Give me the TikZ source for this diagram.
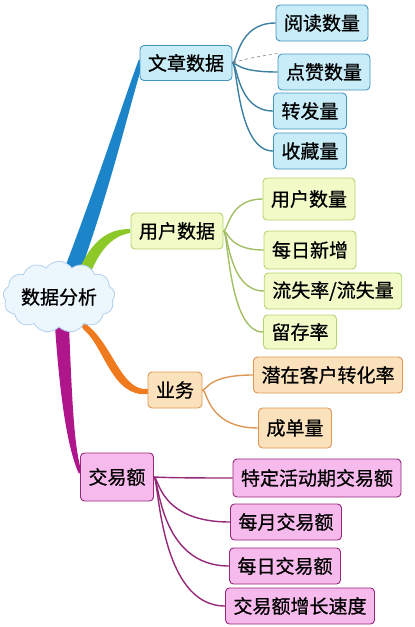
\documentclass[tikz,border=0pt]{standalone}
\usepackage{fontspec}
\newfontfamily\cjk[FakeBold=0.7]{Noto Sans CJK SC}
\usetikzlibrary{arrows.meta,calc,shapes.symbols}
\definecolor{trunkblue}{RGB}{28,132,200}
\definecolor{trunkgreen}{RGB}{140,200,40}
\definecolor{trunkorange}{RGB}{240,122,30}
\definecolor{trunkpink}{RGB}{176,22,140}
\definecolor{bluefill}{RGB}{200,236,248}
\definecolor{blueedge}{RGB}{70,150,190}
\definecolor{greenfill}{RGB}{242,250,200}
\definecolor{greenedge}{RGB}{180,212,110}
\definecolor{orangefill}{RGB}{252,226,188}
\definecolor{orangeedge}{RGB}{222,152,86}
\definecolor{pinkfill}{RGB}{246,186,236}
\definecolor{pinkedge}{RGB}{150,40,120}
\definecolor{cloudfill}{RGB}{236,246,253}
\definecolor{cloudedge}{RGB}{176,208,236}
\tikzset{
  topic/.style={draw,rounded corners=4pt,line width=0.9pt,inner xsep=8pt,inner ysep=0pt,
    minimum height=36pt,font=\cjk\fontsize{19}{21}\selectfont},
  bluebox/.style={topic,fill=bluefill,draw=blueedge},
  greenbox/.style={topic,fill=greenfill,draw=greenedge},
  orangebox/.style={topic,fill=orangefill,draw=orangeedge},
  pinkbox/.style={topic,fill=pinkfill,draw=pinkedge},
  bluelink/.style={draw=blueedge!85!black,line width=1.4pt},
  greenlink/.style={draw=greenedge!90!black,line width=1.4pt},
  orangelink/.style={draw=orangeedge,line width=1.4pt},
  pinklink/.style={draw=pinkedge,line width=1.4pt},
}
\newcommand{\mmlink}[3]{%
  \draw[#3] (#1.east) .. controls ($(#1.east)+(5,0)$) and ($(#1.east |- #2.west)+(5,0)$) .. (#2.west);%
}

\begin{document}
\begin{tikzpicture}[x=1pt,y=-1pt]
  \useasboundingbox (0,0) rectangle (415,627);
  % main branches
  \fill[trunkblue] (64,270) .. controls (100,175) and (122,105) .. (139,59)
    -- (142,66) .. controls (128,112) and (112,182) .. (81,270) -- cycle;
  \fill[trunkgreen] (78,272) .. controls (92,240) and (108,229) .. (130,229)
    -- (130,233) .. controls (112,236) and (100,250) .. (90,274) -- cycle;
  \fill[trunkorange] (76,318) .. controls (112,334) and (118,392) .. (148,389)
    -- (148,394) .. controls (112,398) and (104,346) .. (84,330) -- cycle;
  \fill[trunkpink] (55,326) .. controls (60,400) and (68,450) .. (79,474)
    -- (81,470) .. controls (74,445) and (72,400) .. (69,326) -- cycle;
  % central topic
  \node[cloud,cloud puffs=13,cloud puff arc=110,aspect=1.8,fill=cloudfill,draw=cloudedge,
    line width=0.8pt,minimum width=110pt,minimum height=62pt,inner sep=0pt,
    font=\cjk\fontsize{19}{21}\selectfont] (root) at (59,297) {数据分析};
  % main topics
  \node[bluebox,minimum height=35pt] (article) at (186,63) {文章数据};
  \node[greenbox] (users) at (177,231) {用户数据};
  \node[orangebox] (biz) at (175,390) {业务};
  \node[pinkbox,minimum height=48pt] (trade) at (117,477) {交易额};
  % subtopics
  \node[bluebox] (reads) at (322,23) {阅读数量};
  \node[bluebox] (likes) at (324,72) {点赞数量};
  \node[bluebox] (shares) at (310,111) {转发量};
  \node[bluebox] (favs) at (310,151) {收藏量};
  \node[greenbox,minimum height=42pt] (usercount) at (309,199) {用户数量};
  \node[greenbox,minimum height=38pt] (dailynew) at (310,250) {每日新增};
  \node[greenbox] (churn) at (333,291) {流失率/流失量};
  \node[greenbox,minimum height=34pt] (retention) at (300,332) {留存率};
  \node[orangebox] (convert) at (328,375) {潜在客户转化率};
  \node[orangebox,minimum height=40pt] (orders) at (295,428) {成单量};
  \node[pinkbox,minimum height=38pt] (promo) at (317,478) {特定活动期交易额};
  \node[pinkbox] (monthly) at (286,522) {每月交易额};
  \node[pinkbox] (daily) at (285,566) {每日交易额};
  \node[pinkbox] (growth) at (300,606) {交易额增长速度};
  % connectors
  \mmlink{article}{reads}{bluelink}
  \mmlink{article}{likes}{bluelink}
  \mmlink{article}{shares}{bluelink}
  \mmlink{article}{favs}{bluelink}
  \mmlink{users}{usercount}{greenlink}
  \mmlink{users}{dailynew}{greenlink}
  \mmlink{users}{churn}{greenlink}
  \mmlink{users}{retention}{greenlink}
  \mmlink{biz}{convert}{orangelink}
  \mmlink{biz}{orders}{orangelink}
  \mmlink{trade}{promo}{pinklink}
  \mmlink{trade}{monthly}{pinklink}
  \mmlink{trade}{daily}{pinklink}
  \mmlink{trade}{growth}{pinklink}
  % relation
  \draw[gray,dashed,line width=0.6pt,-{Stealth[length=4pt]}] (likes.north west)
    .. controls (262,56) and (248,58) .. (article.east);
\end{tikzpicture}
\end{document}
